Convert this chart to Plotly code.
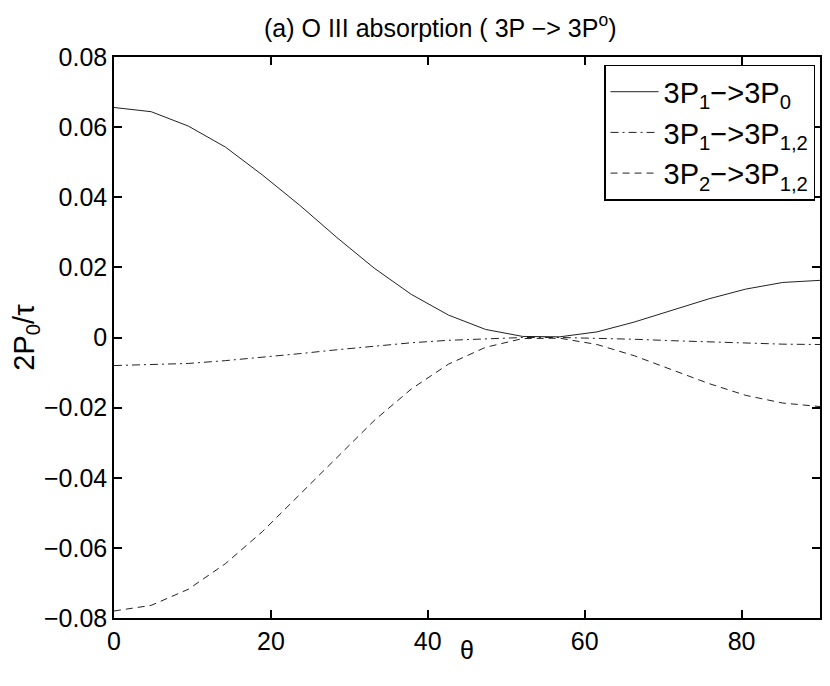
import numpy as np
import plotly.graph_objects as go

# theta samples (20 points from 0 to 90)
theta = [0.0, 4.737, 9.474, 14.211, 18.947, 23.684, 28.421, 33.158, 37.895, 42.632,
         47.368, 52.105, 56.842, 61.579, 66.316, 71.053, 75.789, 80.526, 85.263, 90.0]

p1_to_p0 = [0.0656, 0.0644, 0.0603, 0.0543, 0.0463, 0.0377, 0.0285, 0.0198, 0.0123, 0.0064,
            0.0023, 0.0003, 0.0002, 0.0016, 0.0044, 0.0077, 0.0110, 0.0138, 0.0157, 0.0163]
p1_to_p12 = [-0.0080, -0.0078, -0.0074, -0.0066, -0.0057, -0.0046, -0.0035, -0.0024, -0.0015, -0.0008,
             -0.0003, 0.0000, 0.0000, -0.0002, -0.0005, -0.0009, -0.0013, -0.0017, -0.0019, -0.0020]
p2_to_p12 = [-0.0780, -0.0764, -0.0718, -0.0645, -0.0553, -0.0448, -0.0340, -0.0237, -0.0147, -0.0076,
             -0.0028, -0.0003, -0.0002, -0.0020, -0.0052, -0.0091, -0.0131, -0.0165, -0.0187, -0.0197]

series_names = ["3P<sub>1</sub>−>3P<sub>0</sub>",
                "3P<sub>1</sub>−>3P<sub>1,2</sub>",
                "3P<sub>2</sub>−>3P<sub>1,2</sub>"]

xtick_vals = [0, 20, 40, 60, 80]
ytick_vals = [0.08, 0.06, 0.04, 0.02, 0, -0.02, -0.04, -0.06, -0.08]
ytick_text = ["0.08", "0.06", "0.04", "0.02", "0", "−0.02", "−0.04", "−0.06", "−0.08"]

FONT = "Liberation Sans, Arial, Helvetica, sans-serif"
LC = "#222222"

fig = go.Figure()
fig.add_trace(go.Scatter(x=theta, y=p1_to_p0, mode="lines", name=series_names[0],
                         line=dict(color=LC, width=1, dash="solid")))
fig.add_trace(go.Scatter(x=theta, y=p1_to_p12, mode="lines", name=series_names[1],
                         line=dict(color=LC, width=1, dash="8px,4px,2px,4px")))
fig.add_trace(go.Scatter(x=theta, y=p2_to_p12, mode="lines", name=series_names[2],
                         line=dict(color=LC, width=1, dash="7px,5px")))

axis_common = dict(showgrid=False, zeroline=False, showline=True, linecolor="black",
                   linewidth=1.5, mirror="ticks", ticks="inside", ticklen=8,
                   tickwidth=1.5, tickcolor="black",
                   tickfont=dict(family=FONT, size=25, color="black"))

fig.update_layout(
    width=814, height=670,
    margin=dict(l=106, r=0, t=49, b=60),
    paper_bgcolor="white", plot_bgcolor="white",
    font=dict(family=FONT, color="black"),
    showlegend=True,
    legend=dict(x=0.993, y=0.986, xanchor="right", yanchor="top",
                bordercolor="black", borderwidth=1.5, bgcolor="white",
                font=dict(family=FONT, size=29, color="black"),
                tracegroupgap=0, itemwidth=48),
    xaxis=dict(range=[0, 90], tickvals=xtick_vals, **axis_common),
    yaxis=dict(range=[-0.08, 0.08], tickvals=ytick_vals, ticktext=ytick_text, **axis_common),
)
fig.update_yaxes(title=dict(text="2P<sub>0</sub>/τ", font=dict(family=FONT, size=29), standoff=6))

fig.add_annotation(text="θ", xref="paper", yref="paper", x=0.5, y=0, yshift=-32,
                   xanchor="center", yanchor="middle", showarrow=False,
                   font=dict(family=FONT, size=25, color="black"))

fig.add_annotation(text="(a) O III absorption ( 3P −> 3P<sup>o</sup>)",
                   xref="paper", yref="paper", x=0.462, y=1.0, yshift=13,
                   xanchor="center", yanchor="bottom", showarrow=False,
                   font=dict(family=FONT, size=25, color="black"))

fig.write_html("out.html")
